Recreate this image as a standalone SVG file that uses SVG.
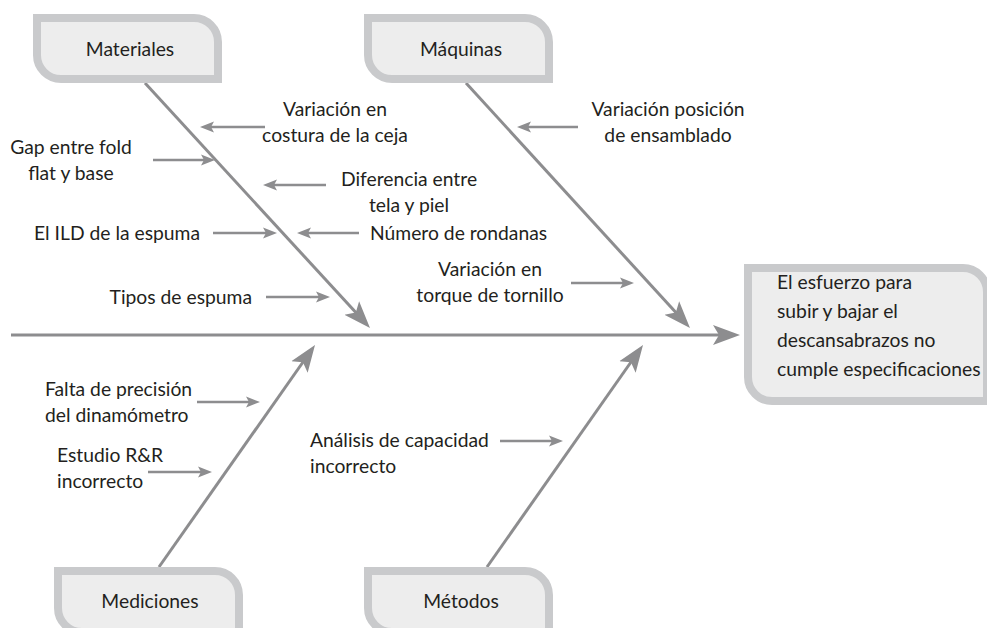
<svg xmlns="http://www.w3.org/2000/svg" width="987" height="628" viewBox="0 0 987 628">
<style>
text{font-family:Lato,"Open Sans","Liberation Sans",sans-serif;font-size:19.3px;fill:#231f20}
.box{fill:#ededed;stroke:#c9cacc;stroke-width:8}
.bone{stroke:#8d8d8f;stroke-width:3;fill:none}
.sub{stroke:#8d8d8f;stroke-width:2.5;fill:none}
.m{text-anchor:middle}
.e{text-anchor:end}
</style>
<defs>
<marker id="big" markerUnits="userSpaceOnUse" markerWidth="30" markerHeight="24" viewBox="0 -12 30 24" refX="19" refY="0" orient="auto">
<path d="M27,0 L0,-10 L6,0 L0,10 Z" fill="#8d8d8f"/>
</marker>
<marker id="small" markerUnits="userSpaceOnUse" markerWidth="16" markerHeight="12" viewBox="0 -6 16 12" refX="8" refY="0" orient="auto">
<path d="M14,0 L0,-5.5 L3,0 L0,5.5 Z" fill="#8d8d8f"/>
</marker>
</defs>

<g id="connectors">
<line class="bone" x1="11" y1="335" x2="732" y2="335" marker-end="url(#big)"/>
<line class="bone" x1="145" y1="83" x2="364.6" y2="322.1" marker-end="url(#big)"/>
<line class="bone" x1="466" y1="83" x2="684.6" y2="322.1" marker-end="url(#big)"/>
<line class="bone" x1="159" y1="567" x2="310.4" y2="351.5" marker-end="url(#big)"/>
<line class="bone" x1="487" y1="567" x2="638.4" y2="351.5" marker-end="url(#big)"/>
<line class="sub" x1="265" y1="127" x2="206" y2="127" marker-end="url(#small)"/>
<line class="sub" x1="153" y1="160" x2="209" y2="160" marker-end="url(#small)"/>
<line class="sub" x1="326" y1="185" x2="269" y2="185" marker-end="url(#small)"/>
<line class="sub" x1="213" y1="233" x2="271" y2="233" marker-end="url(#small)"/>
<line class="sub" x1="359" y1="233" x2="303" y2="233" marker-end="url(#small)"/>
<line class="sub" x1="266" y1="297" x2="324" y2="297" marker-end="url(#small)"/>
<line class="sub" x1="578" y1="127" x2="523" y2="127" marker-end="url(#small)"/>
<line class="sub" x1="571" y1="283" x2="628" y2="283" marker-end="url(#small)"/>
<line class="sub" x1="197" y1="402" x2="254" y2="402" marker-end="url(#small)"/>
<line class="sub" x1="148" y1="472" x2="206" y2="472" marker-end="url(#small)"/>
<line class="sub" x1="500" y1="441" x2="557" y2="441" marker-end="url(#small)"/>
</g>

<g id="materiales">
<path class="box" d="M37,18 H194 A24,24 0 0 1 218,42 V79 H61 A24,24 0 0 1 37,55 Z"/>
<text class="m" x="130" y="56">Materiales</text>
</g>
<g id="maquinas">
<path class="box" d="M368,18 H525 A24,24 0 0 1 549,42 V79 H392 A24,24 0 0 1 368,55 Z"/>
<text class="m" x="461" y="56">Máquinas</text>
</g>
<g id="mediciones">
<path class="box" d="M58,571 H215 A24,24 0 0 1 239,595 V632 H82 A24,24 0 0 1 58,608 Z"/>
<text class="m" x="150" y="608">Mediciones</text>
</g>
<g id="metodos">
<path class="box" d="M368,571 H525 A24,24 0 0 1 549,595 V632 H392 A24,24 0 0 1 368,608 Z"/>
<text class="m" x="461" y="608">Métodos</text>
</g>
<g id="efecto">
<path class="box" d="M748,268 H963 A24,24 0 0 1 987,292 V401 H772 A24,24 0 0 1 748,377 Z"/>
<text x="777" y="289">El esfuerzo para</text>
<text x="777" y="318">subir y bajar el</text>
<text x="777" y="347">descansabrazos no</text>
<text x="777" y="376">cumple especificaciones</text>
</g>

<g id="causa-costura">
<text class="m" x="335" y="116">Variación en</text>
<text class="m" x="335" y="142">costura de la ceja</text>
</g>
<g id="causa-gap">
<text class="m" x="71" y="154">Gap entre fold</text>
<text class="m" x="71" y="180">flat y base</text>
</g>
<g id="causa-diferencia">
<text class="m" x="409" y="186">Diferencia entre</text>
<text class="m" x="409" y="212">tela y piel</text>
</g>
<g id="causa-ild">
<text class="e" x="200" y="240">El ILD de la espuma</text>
</g>
<g id="causa-rondanas">
<text x="370" y="240">Número de rondanas</text>
</g>
<g id="causa-tipos">
<text class="e" x="252" y="304">Tipos de espuma</text>
</g>
<g id="causa-ensamblado">
<text class="m" x="668" y="116">Variación posición</text>
<text class="m" x="668" y="142">de ensamblado</text>
</g>
<g id="causa-torque">
<text class="m" x="490" y="276">Variación en</text>
<text class="m" x="490" y="302">torque de tornillo</text>
</g>
<g id="causa-dinamometro">
<text x="45" y="396">Falta de precisión</text>
<text x="45" y="422">del dinamómetro</text>
</g>
<g id="causa-rr">
<text x="57" y="462">Estudio R&amp;R</text>
<text x="57" y="488">incorrecto</text>
</g>
<g id="causa-capacidad">
<text x="310" y="447">Análisis de capacidad</text>
<text x="310" y="473">incorrecto</text>
</g>
</svg>
